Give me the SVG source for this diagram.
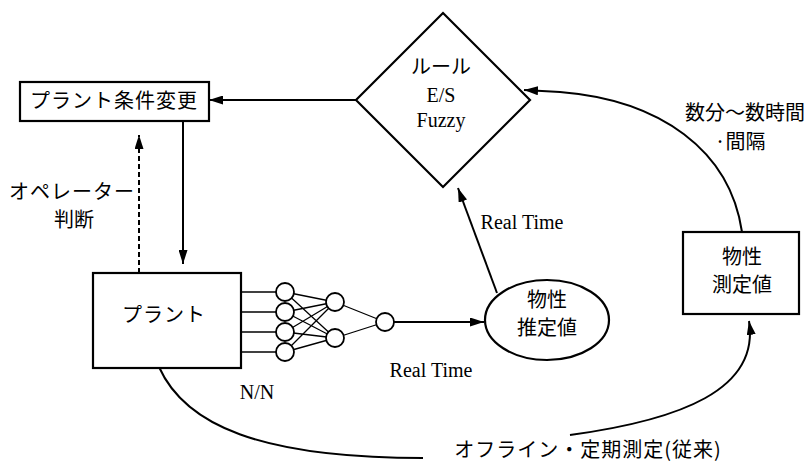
<svg xmlns="http://www.w3.org/2000/svg" width="810" height="463" viewBox="0 0 810 463">
<style>
.box{fill:#fff;stroke:#000;stroke-width:2.2}
.ln{fill:none;stroke:#000;stroke-width:2}
.nn{fill:none;stroke:#000;stroke-width:1.3}
.nc{fill:#fff;stroke:#000;stroke-width:1.8}
.jp{font-family:"Noto Sans CJK JP","Noto Sans",sans-serif;font-size:20px;fill:#000;text-anchor:middle}
.en{font-family:"Liberation Serif",serif;font-size:20px;fill:#000;text-anchor:middle}
</style>
<defs>
<marker id="ah" viewBox="0 0 14 9" refX="14" refY="4.5" markerWidth="14" markerHeight="9" orient="auto" markerUnits="userSpaceOnUse">
<path d="M0,0 L14,4.5 L0,9 z" fill="#000"/>
</marker>
</defs>
<rect width="810" height="463" fill="#fff"/>

<g id="connectors">
<line class="ln" x1="356" y1="100" x2="209" y2="100" marker-end="url(#ah)"/>
<line class="ln" x1="183" y1="121" x2="183" y2="264" marker-end="url(#ah)"/>
<line class="ln" x1="139" y1="273" x2="139" y2="135" stroke-dasharray="5,3" marker-end="url(#ah)"/>
<line class="ln" x1="394" y1="322" x2="484" y2="322" marker-end="url(#ah)"/>
<line class="ln" x1="497" y1="293" x2="458" y2="188" marker-end="url(#ah)"/>
<path class="ln" d="M742,232 C730,150 660,100 560,92 L524,90" marker-end="url(#ah)"/>
<path class="ln" d="M159,367 C185,425 260,458 423,458"/>
<path class="ln" d="M570,435 C680,420 760,390 749,321" marker-end="url(#ah)"/>
</g>

<g id="plant-change">
<rect class="box" x="20" y="82" width="189" height="39"/>
<text class="jp" x="114" y="108" letter-spacing="1">プラント条件変更</text>
</g>

<g id="rule">
<polygon class="box" points="443,13 530,100 443,187 356,100"/>
<text class="jp" x="441" y="74">ルール</text>
<text class="en" x="441" y="102">E/S</text>
<text class="en" x="441" y="127">Fuzzy</text>
</g>

<g id="operator-label">
<text class="jp" x="72" y="199" letter-spacing="1">オペレーター</text>
<text class="jp" x="74" y="227">判断</text>
</g>

<g id="plant">
<rect class="box" x="93" y="273" width="148" height="95"/>
<text class="jp" x="164" y="322" letter-spacing="1">プラント</text>
</g>

<g id="nn">
<line class="nn" x1="241" y1="292" x2="276" y2="292"/>
<line class="nn" x1="241" y1="312" x2="276" y2="312"/>
<line class="nn" x1="241" y1="332" x2="276" y2="332"/>
<line class="nn" x1="241" y1="352" x2="276" y2="352"/>
<path class="nn" d="M285,292 L335,302 M285,292 L335,338 M285,312 L335,302 M285,312 L335,338 M285,332 L335,302 M285,332 L335,338 M285,352 L335,302 M285,352 L335,338 M335,302 L385,322 M335,338 L385,322"/>
<circle class="nc" cx="285" cy="292" r="9"/>
<circle class="nc" cx="285" cy="312" r="9"/>
<circle class="nc" cx="285" cy="332" r="9"/>
<circle class="nc" cx="285" cy="352" r="9"/>
<circle class="nc" cx="335" cy="302" r="9"/>
<circle class="nc" cx="335" cy="338" r="9"/>
<circle class="nc" cx="385" cy="322" r="9"/>
<text class="en" x="257" y="399">N/N</text>
</g>

<g id="estimate">
<ellipse class="box" cx="547" cy="320" rx="62" ry="40"/>
<text class="jp" x="547" y="307" font-size="21">物性</text>
<text class="jp" x="547" y="335" font-size="21">推定値</text>
</g>

<g id="measured">
<rect class="box" x="683" y="232" width="116" height="82"/>
<text class="jp" x="742" y="264" font-size="21">物性</text>
<text class="jp" x="742" y="292" font-size="21">測定値</text>
</g>

<g id="labels">
<text class="en" x="431" y="377">Real Time</text>
<text class="en" x="522" y="229">Real Time</text>
<text class="jp" x="745" y="120" font-size="21">数分～数時間</text>
<text class="jp" x="740" y="149" font-size="21">·間隔</text>
<text class="jp" x="588" y="457" letter-spacing="1">オフライン・定期測定(従来)</text>
</g>
</svg>
